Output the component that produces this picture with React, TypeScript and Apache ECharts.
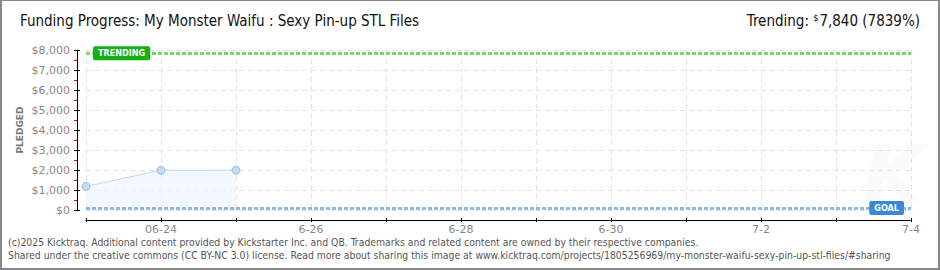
import React, { useEffect, useRef } from "react";
import * as echarts from "echarts";

const days = ["6-23", "6-24", "6-25", "6-26", "6-27", "6-28", "6-29", "6-30", "7-1", "7-2", "7-3", "7-4"];
const dayLabels = ["", "06-24", "", "6-26", "", "6-28", "", "6-30", "", "7-2", "", "7-4"];
const pledged = [1180, 1990, 1990];
const trendingValue = 7840;
const goalValue = 100;
const yTicks = [0, 1000, 2000, 3000, 4000, 5000, 6000, 7000, 8000];

const FONT = "'DejaVu Sans', sans-serif";
const NARROW = "'DejaVu Sans Condensed', 'Liberation Sans Narrow', sans-serif";

export default function App() {
  const ref = useRef<HTMLDivElement>(null);
  useEffect(() => {
    document.body.style.margin = "0";
    const chart = echarts.init(ref.current!, null, { renderer: "svg" });
    const fmtMoney = (v: number) => "$" + v.toLocaleString("en-US");
    chart.setOption({
      animation: false,
      textStyle: { fontFamily: FONT },
      grid: { left: 86, right: 29, top: 50, bottom: 60, containLabel: false },
      graphic: [
        {
          type: "text",
          left: 20,
          top: 13,
          style: {
            text: "Funding Progress: My Monster Waifu : Sexy Pin-up STL Files",
            font: "15px " + NARROW,
            fill: "#111",
          },
        },
        {
          type: "text",
          right: 20,
          top: 13,
          style: {
            text: "{a|Trending: }{s|$}{a|7,840 (7839%)}",
            rich: {
              a: { font: "15px " + NARROW, fill: "#111", color: "#111" },
              s: { font: "9px " + NARROW, color: "#111", verticalAlign: "top", padding: [0, 1, 6, 0] },
            },
          },
        },
        {
          type: "text",
          x: 20,
          y: 130,
          rotation: Math.PI / 2,
          style: {
            text: "PLEDGED",
            font: "bold 9px " + FONT,
            fill: "#777",
            align: "center",
            verticalAlign: "middle",
          },
        },
        {
          type: "text",
          left: 862,
          top: 134,
          style: { text: "K", font: "italic bold 82px " + FONT, fill: "#fafafa" },
          z: -1,
        },
        {
          type: "text",
          left: 8,
          top: 237,
          style: {
            text: "(c)2025 Kicktraq. Additional content provided by Kickstarter Inc. and QB. Trademarks and related content are owned by their respective companies.",
            font: "10.35px " + NARROW,
            fill: "#555",
          },
        },
        {
          type: "text",
          left: 8,
          top: 250,
          style: {
            text: "Shared under the creative commons (CC BY-NC 3.0) license. Read more about sharing this image at www.kicktraq.com/projects/1805256969/my-monster-waifu-sexy-pin-up-stl-files/#sharing",
            font: "10.35px " + NARROW,
            fill: "#555",
          },
        },
      ],
      xAxis: [
        {
          type: "category",
          data: days,
          boundaryGap: false,
          offset: 10,
          axisLine: { show: true, onZero: false, lineStyle: { color: "#000", width: 1 } },
          axisTick: { show: true, interval: 0, length: 2, lineStyle: { color: "#000" } },
          axisLabel: {
            interval: 0,
            color: "#888",
            fontSize: 11,
            margin: 4,
            formatter: (_v: string, i: number) => dayLabels[i],
          },
          splitLine: { show: true, interval: 0, lineStyle: { color: "#e2e2e2", type: [5, 4] } },
        },
        {
          type: "category",
          data: days,
          boundaryGap: false,
          offset: 10,
          position: "bottom",
          axisLine: { show: false, onZero: false },
          axisTick: { show: true, inside: true, interval: 0, length: 2, lineStyle: { color: "#000" } },
          axisLabel: { show: false },
          splitLine: { show: false },
        },
      ],
      yAxis: [
        {
          type: "value",
          min: yTicks[0],
          max: yTicks[yTicks.length - 1],
          interval: 1000,
          offset: 9,
          axisLine: { show: true, onZero: false, lineStyle: { color: "#000" } },
          axisTick: { show: true, length: 3, lineStyle: { color: "#000" } },
          minorTick: { show: true, splitNumber: 2, length: 3, lineStyle: { color: "#e00" } },
          axisLabel: { color: "#888", fontSize: 11, margin: 7, formatter: (v: number) => fmtMoney(v) },
          splitLine: { show: true, lineStyle: { color: "#e2e2e2", type: [5, 4] } },
        },
        {
          type: "value",
          min: yTicks[0],
          max: yTicks[yTicks.length - 1],
          interval: 1000,
          offset: 9,
          position: "left",
          axisLine: { show: false, onZero: false },
          axisTick: { show: true, inside: true, length: 3, lineStyle: { color: "#000" } },
          axisLabel: { show: false },
          splitLine: { show: false },
        },
      ],
      series: [
        {
          type: "line",
          data: pledged,
          xAxisIndex: 0,
          yAxisIndex: 0,
          symbol: "circle",
          symbolSize: 8,
          lineStyle: { color: "#bcd9f5", width: 1 },
          itemStyle: { color: "#c4ddf7", borderColor: "#94b8dd", borderWidth: 1 },
          areaStyle: { color: "#eef5fd" },
          markLine: {
            symbol: "none",
            silent: true,
            data: [
              {
                yAxis: trendingValue,
                lineStyle: { color: "#7fd36b", width: 3, type: [4, 2] },
                label: {
                  show: true,
                  position: "insideStart",
                  formatter: "TRENDING",
                  color: "#fff",
                  fontSize: 9,
                  fontFamily: NARROW,
                  fontWeight: "bold",
                  backgroundColor: "#15b015",
                  padding: [3, 5, 2, 5],
                  borderRadius: 2,
                  verticalAlign: "middle",
                  distance: [7, 0],
                },
              },
              {
                yAxis: goalValue,
                lineStyle: { color: "#8fb8e6", width: 3, type: [4, 2] },
                label: {
                  show: true,
                  position: "insideEnd",
                  formatter: "GOAL",
                  color: "#fff",
                  fontSize: 9,
                  fontFamily: NARROW,
                  fontWeight: "bold",
                  backgroundColor: "#3b88d8",
                  padding: [3, 5, 2, 5],
                  borderRadius: 2,
                  verticalAlign: "middle",
                  distance: [7, 0],
                },
              },
            ],
          },
        },
      ],
    });
    return () => chart.dispose();
  }, []);
  return (
    <div style={{ position: "relative", width: 940, height: 270 }}>
      <div ref={ref} style={{ position: "absolute", left: 0, top: 0, width: 940, height: 270 }} />
      <div
        style={{
          position: "absolute",
          left: 0,
          top: 0,
          width: 940,
          height: 270,
          boxSizing: "border-box",
          borderStyle: "solid",
          borderColor: "#888",
          borderWidth: "1px 2px 2px 2px",
          pointerEvents: "none",
        }}
      />
    </div>
  );
}
